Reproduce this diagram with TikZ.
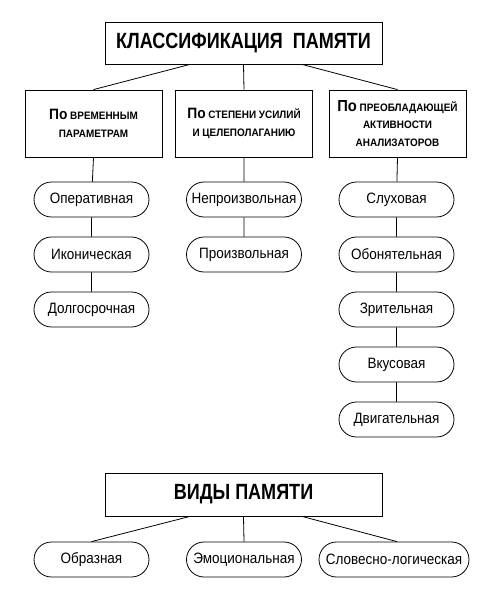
\documentclass[tikz,border=0pt]{standalone}
\usepackage{fontspec}
\setmainfont{Liberation Sans}[FakeStretch=0.9]
\newfontfamily\headfont{Liberation Sans}[FakeStretch=0.82]
\newfontfamily\groupfont{Liberation Sans}[FakeStretch=0.92]
\usetikzlibrary{shapes.misc}
\newcommand{\po}[1][15]{{\fontsize{#1}{17.5}\selectfont По}}
\begin{document}
\begin{tikzpicture}[x=1pt,y=-1pt,line width=0.8pt]
  \tikzset{
    headbox/.style={draw, minimum width=277pt, minimum height=42pt, inner sep=0pt, font=\headfont\bfseries\fontsize{22}{24}\selectfont},
    groupbox/.style={draw, minimum width=137pt, minimum height=67pt, inner sep=0pt, align=center, font=\groupfont\bfseries\fontsize{10.8}{17.5}\selectfont},
    kind/.style={draw, rounded rectangle, minimum width=119pt, minimum height=35pt, inner xsep=2pt, inner ysep=0pt, font=\fontsize{15}{17}\selectfont}
  }
  \useasboundingbox (0,0) rectangle (492,598);
  % classification
  \node[headbox] (klass) at (243.5,43) {КЛАССИФИКАЦИЯ\ \ ПАМЯТИ};
  \node[groupbox] (vrem) at (93.5,123.5) {\po{} ВРЕМЕННЫМ\\ПАРАМЕТРАМ};
  \node[groupbox] (stepen) at (244,123.5) {\po{} СТЕПЕНИ УСИЛИЙ\\И ЦЕЛЕПОЛАГАНИЮ};
  \node[groupbox] (analiz) at (397.5,123.5) {\po[16] ПРЕОБЛАДАЮЩЕЙ\\АКТИВНОСТИ\\АНАЛИЗАТОРОВ};
  \draw ([xshift=-53.5pt]klass.south) -- (vrem.north);
  \draw (klass.south) -- (stepen.north);
  \draw ([xshift=58.5pt]klass.south) -- (analiz.north);
  % by time
  \node[kind] (oper) at (91.5,199.5) {Оперативная};
  \node[kind] (ikon) at (91.5,254.5) {Иконическая};
  \node[kind] (dolg) at (91.5,309.5) {Долгосрочная};
  \draw (vrem.south) -- (oper) -- (ikon) -- (dolg);
  % by effort
  \node[kind] (neproizv) at (244,199.5) {Непроизвольная};
  \node[kind] (proizv) at (244,254.5) {Произвольная};
  \draw (stepen.south) -- (neproizv) -- (proizv);
  % by analyzers
  \node[kind] (sluh) at (396.5,199.5) {Слуховая};
  \node[kind] (obon) at (396.5,254.5) {Обонятельная};
  \node[kind] (zrit) at (396.5,309.5) {Зрительная};
  \node[kind] (vkus) at (396.5,364.5) {Вкусовая};
  \node[kind] (dvig) at (396.5,419.5) {Двигательная};
  \draw (analiz.south) -- (sluh) -- (obon) -- (zrit) -- (vkus) -- (dvig);
  % kinds of memory
  \node[headbox, minimum height=43pt] (vidy) at (243.5,494.5) {ВИДЫ ПАМЯТИ};
  \node[kind] (obraz) at (91.5,559.5) {Образная};
  \node[kind] (emoc) at (244,559.5) {Эмоциональная};
  \node[kind, minimum width=154pt] (slov) at (394,559.5) {Словесно-логическая};
  \draw ([xshift=-53.5pt]vidy.south) -- (obraz.north);
  \draw (vidy.south) -- (emoc.north);
  \draw ([xshift=58.5pt]vidy.south) -- ([xshift=3pt]slov.north);
\end{tikzpicture}
\end{document}
